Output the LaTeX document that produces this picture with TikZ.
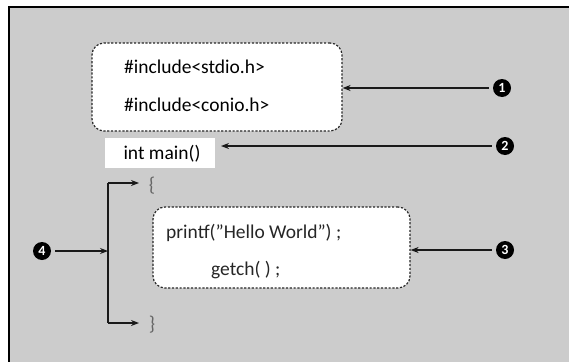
\documentclass[tikz,border=0pt]{standalone}
\usepackage{fontspec}
\setmainfont{Carlito}
\usetikzlibrary{arrows.meta}
\begin{document}
\begin{tikzpicture}[x=1pt,y=-1pt,
  codebox/.style={draw=black!85, dashed, dash pattern=on 2.2pt off 1.6pt, line width=1.2pt, rounded corners=12pt, fill=white},
  codetxt/.style={anchor=west, font=\fontsize{19.5}{22}\selectfont, inner sep=0pt},
  num/.style={circle, fill=black, text=white, inner sep=0pt, minimum size=18pt, font=\fontsize{14}{14}\selectfont\bfseries},
  arr/.style={-{Stealth[length=8pt,width=6pt]}, line width=1.4pt, black!90},
  bracel/.style={line width=1.8pt, black!90}
]
\useasboundingbox (0,0) rectangle (569,361);
\fill[white] (0,0) rectangle (569,361);
\fill[black!20] (9,7) rectangle (575,370);
\draw[line width=2pt] (9,370) -- (9,7) -- (575,7);

% header box
\node[codebox, minimum width=250pt, minimum height=88pt] (hdr) at (217,87) {};
\node[codetxt] (inc1) at (124,67) {\#include<stdio.h>};
\node[codetxt] (inc2) at (124,105) {\#include<conio.h>};

% int main
\node[fill=white, minimum width=110pt, minimum height=30pt, inner sep=0pt] (main) at (160,153) {};
\node[font=\fontsize{19.5}{22}\selectfont, inner sep=0pt] (maintxt) at (162,154) {int main()};

% braces
\node[font=\fontsize{20}{22}\selectfont, text=black!60, inner sep=0pt] (lb) at (152,186) {\{};
\node[font=\fontsize{20}{22}\selectfont, text=black!60, inner sep=0pt] (rb) at (152,325) {\}};

% body box
\node[codebox, minimum width=257pt, minimum height=81pt] (body) at (281.5,247.5) {};
\node[codetxt, text=black!85] (pf) at (166,233) {printf("Hello World") ;};
\node[codetxt, text=black!85] (gc) at (211,270) {getch( ) ;};

% numbers
\node[num] (c1) at (502,88) {1};
\node[num] (c2) at (505,146) {2};
\node[num] (c3) at (505,250) {3};
\node[num] (c4) at (42,251) {4};

% arrows
\draw[arr] (c1.west) ++(-4pt,0) -- (hdr.east |- c1);
\coordinate (m2) at (221,146);
\draw[arr] (c2.west) ++(-4pt,0) -- (m2);
\draw[arr] (c3.west) ++(-4pt,0) -- (body.east |- c3);

% bracket
\coordinate (bt) at (108,183);
\coordinate (bb) at (108,323);
\coordinate (bm) at (108,251);
\coordinate (at) at (139,183);
\coordinate (ab) at (139,323);
\draw[bracel] (bt) -- (bb);
\draw[arr] (bt) -- (at);
\draw[arr] (bb) -- (ab);
\draw[arr, line width=1.1pt] (c4.east) ++(4pt,0) -- (bm);
\end{tikzpicture}
\end{document}
